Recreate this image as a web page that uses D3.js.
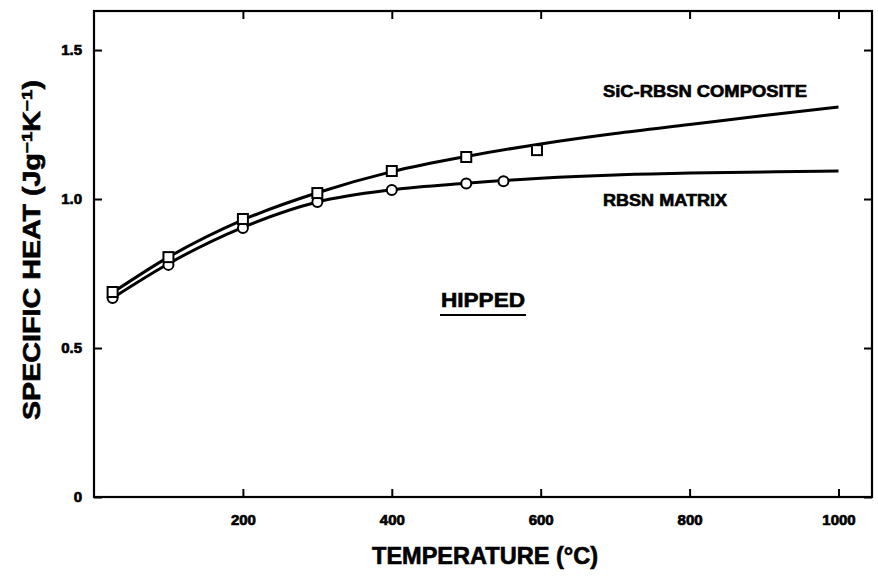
<!DOCTYPE html>
<html>
<head>
<meta charset="utf-8">
<script src="https://cdn.jsdelivr.net/npm/d3@7"></script>
<style>
  body { margin: 0; background: #fff; }
  text { font-family: "Liberation Sans", Arial, sans-serif; font-weight: bold; fill: #000; stroke: #000; stroke-width: 0.6px; }
</style>
</head>
<body>
<script>
// size of the page
var w = 878;
var h = 578;

// measured points, SiC-RBSN composite (squares)
var compTemps = [25, 100, 200, 300, 400, 500, 595];
var compValues = [0.688, 0.805, 0.933, 1.020, 1.094, 1.141, 1.164];

// measured points, RBSN matrix (circles)
var matrixTemps = [25, 100, 200, 300, 400, 500, 550];
var matrixValues = [0.668, 0.779, 0.903, 0.990, 1.030, 1.052, 1.060];

// fitted curves
var fitTemps = [25, 100, 200, 300, 400, 500, 600, 700, 800, 900, 1000];
var compFit = [0.686, 0.805, 0.930, 1.021, 1.092, 1.143, 1.185, 1.220, 1.250, 1.280, 1.309];
var matrixFit = [0.668, 0.783, 0.905, 0.990, 1.031, 1.053, 1.070, 1.081, 1.087, 1.091, 1.094];

// ticks
var xTicks = [200, 400, 600, 800, 1000];
var yTicks = [0, 0.5, 1.0, 1.5];
var yTickLabels = ["0", "0.5", "1.0", "1.5"];

// plot frame (window.top is taken, so pT etc.)
var pL = 94, pR = 872, pT = 11, pB = 497;

var svg = d3.select("body")
  .append("svg")
  .attr("width", w)
  .attr("height", h);

var x = d3.scaleLinear().domain([0, 1045]).range([pL, pR]);
var y = d3.scaleLinear().domain([0, 1.631]).range([pB, pT]);

// axes, ticks pointing inwards on all four sides
function styleAxis(g) {
  g.select(".domain").remove();
  g.selectAll(".tick line").attr("stroke", "#000").attr("stroke-width", 2);
  g.selectAll("text").attr("fill", "#000").style("font-size", "15px")
    .style("font-family", "'Liberation Sans', Arial, sans-serif").style("font-weight", "bold")
    .style("stroke", "#000").style("stroke-width", "0.7px");
}

svg.append("g")
  .attr("transform", "translate(0," + pB + ")")
  .call(d3.axisBottom(x).tickValues(xTicks).tickSize(-8).tickPadding(17).tickFormat(d3.format("d")))
  .call(styleAxis);

svg.append("g")
  .attr("transform", "translate(0," + pT + ")")
  .call(d3.axisTop(x).tickValues(xTicks).tickSize(-8).tickFormat(""))
  .call(styleAxis);

svg.append("g")
  .attr("transform", "translate(" + pL + ",0)")
  .call(d3.axisLeft(y).tickValues(yTicks).tickSize(-8).tickPadding(12)
    .tickFormat(function(d, i) { return yTickLabels[i]; }))
  .call(styleAxis);

svg.append("g")
  .attr("transform", "translate(" + pR + ",0)")
  .call(d3.axisRight(y).tickValues(yTicks).tickSize(-8).tickFormat(""))
  .call(styleAxis);

// frame
svg.append("rect")
  .attr("x", pL).attr("y", pT)
  .attr("width", pR - pL).attr("height", pB - pT)
  .attr("fill", "none").attr("stroke", "#000").attr("stroke-width", 2.2);

// curves
var line = d3.line()
  .x(function(d) { return x(d[0]); })
  .y(function(d) { return y(d[1]); })
  .curve(d3.curveMonotoneX);

[compFit, matrixFit].forEach(function(vals) {
  svg.append("path")
    .datum(fitTemps.map(function(t, i) { return [t, vals[i]]; }))
    .attr("d", line)
    .attr("fill", "none")
    .attr("stroke", "#000")
    .attr("stroke-width", 3);
});

// markers
svg.selectAll("circle.m")
  .data(matrixTemps)
  .enter().append("circle")
  .attr("class", "m")
  .attr("cx", function(d) { return x(d); })
  .attr("cy", function(d, i) { return y(matrixValues[i]); })
  .attr("r", 5)
  .attr("fill", "#fff").attr("stroke", "#000").attr("stroke-width", 2);

svg.selectAll("rect.c")
  .data(compTemps)
  .enter().append("rect")
  .attr("class", "c")
  .attr("x", function(d) { return x(d) - 5; })
  .attr("y", function(d, i) { return y(compValues[i]) - 5; })
  .attr("width", 10).attr("height", 10)
  .attr("fill", "#fff").attr("stroke", "#000").attr("stroke-width", 2);

// labels
function label(tx, ty, size, len, str) {
  return svg.append("text")
    .attr("x", tx).attr("y", ty)
    .style("font-size", size + "px")
    .attr("textLength", len)
    .attr("lengthAdjust", "spacingAndGlyphs")
    .text(str);
}

label(603, 97, 16, 204, "SiC-RBSN COMPOSITE");
label(603, 206, 16, 124, "RBSN MATRIX");
label(441, 307, 20, 84, "HIPPED");

svg.append("line")
  .attr("x1", 440).attr("x2", 526)
  .attr("y1", 315).attr("y2", 315)
  .attr("stroke", "#000").attr("stroke-width", 2);

label(372, 564, 23, 226, "TEMPERATURE (°C)");

var yl = svg.append("text")
  .attr("transform", "translate(40,420) rotate(-90)")
  .style("font-size", "23px")
  .attr("textLength", 340)
  .attr("lengthAdjust", "spacingAndGlyphs");
yl.append("tspan").text("SPECIFIC HEAT  (Jg");
yl.append("tspan").attr("dy", -8).style("font-size", "15px").text("−1");
yl.append("tspan").attr("dy", 8).text("K");
yl.append("tspan").attr("dy", -8).style("font-size", "15px").text("−1");
yl.append("tspan").attr("dy", 8).text(")");
</script>
</body>
</html>
